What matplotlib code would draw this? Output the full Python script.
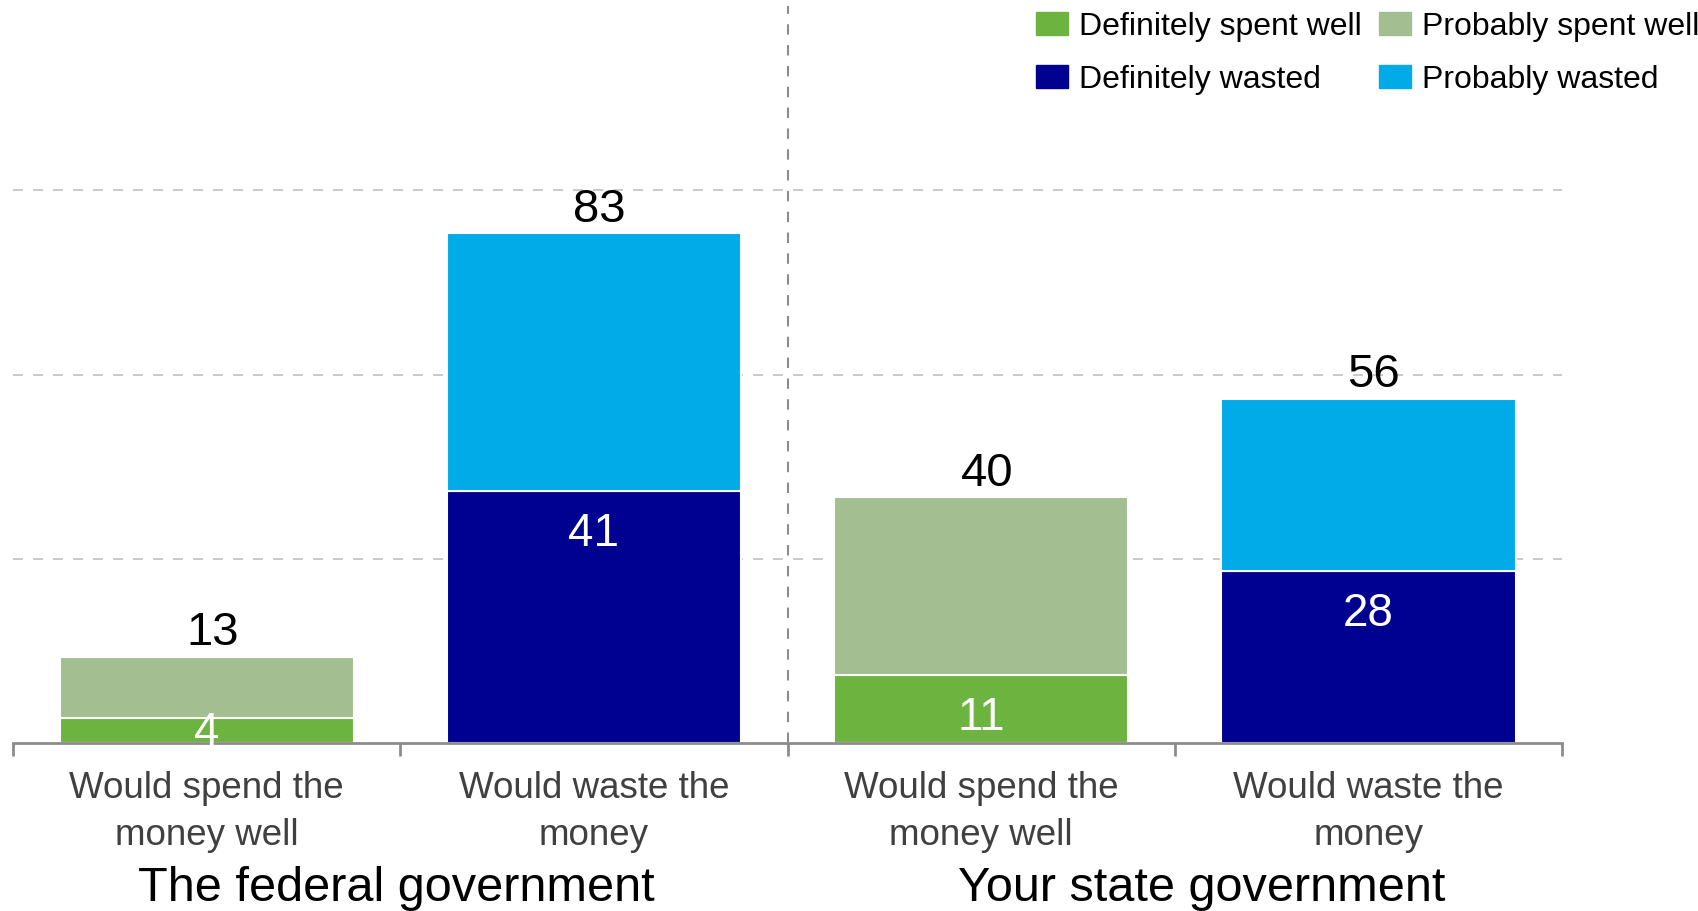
"""
Federal vs state government: would the money be spent well or wasted?
Stacked bar chart recreated with matplotlib.
"""

import numpy as np
import matplotlib
matplotlib.use('Agg')
import matplotlib.pyplot as plt
from matplotlib.patches import Patch
import matplotlib.transforms as mtransforms

plt.rcParams['font.family'] = ['Liberation Sans', 'DejaVu Sans']

# ---- data ----
categories = ['Would spend the\nmoney well', 'Would waste the\nmoney',
              'Would spend the\nmoney well', 'Would waste the\nmoney']
groups = ['The federal government', 'Your state government']
definite = [4, 41, 11, 28]      # definitely spent well / definitely wasted
probable = [10, 42, 29, 28]     # probably spent well / probably wasted
totals = [13, 83, 40, 56]       # printed totals
is_spend = [True, False, True, False]

legend_labels = ['Definitely spent well', 'Probably spent well',
                 'Definitely wasted', 'Probably wasted']

# ---- colours ----
C_DEF_WELL = '#6db33f'
C_PROB_WELL = '#a3be91'
C_DEF_WASTE = '#000091'
C_PROB_WASTE = '#00abe7'

fig = plt.figure(figsize=(16.98, 9.11), dpi=100)
ax = fig.add_axes([0.0077, 0.1844, 0.9122, 0.809])

x = np.arange(len(categories))
width = 0.76
low_colors = [C_DEF_WELL if s else C_DEF_WASTE for s in is_spend]
high_colors = [C_PROB_WELL if s else C_PROB_WASTE for s in is_spend]

ax.bar(x, definite, width, color=low_colors, edgecolor='white', linewidth=1.5, zorder=2)
ax.bar(x, probable, width, bottom=definite, color=high_colors,
       edgecolor='white', linewidth=1.5, zorder=2)

ax.set_xlim(-0.5, 3.5)
ax.set_ylim(0, 120)

# gridlines
for g in [30, 60, 90]:
    ax.axhline(g, color='#c0c0c0', linewidth=1.2, linestyle=(0, (6, 6)), zorder=1)
# separator between groups
ax.axvline(1.5, color='#8c8c8c', linewidth=1.5, linestyle=(0, (5, 5)), zorder=1)

# spines / ticks
for side in ['top', 'right', 'left']:
    ax.spines[side].set_visible(False)
ax.spines['bottom'].set_color('#8c8c8c')
ax.spines['bottom'].set_linewidth(2)
ax.set_yticks([])
ax.set_xticks([-0.5, 0.5, 1.5, 2.5, 3.5])
ax.set_xticklabels([])
ax.tick_params(axis='x', length=9, width=2, color='#8c8c8c', direction='out')

# category labels and group labels
trans = mtransforms.blended_transform_factory(ax.transData, ax.transAxes)
for xi, cat in zip(x, categories):
    ax.text(xi, -0.094, cat, transform=trans, ha='center', va='center',
            fontsize=26.5, color='#404040', linespacing=1.45)
for gx, g in zip([0.49, 2.57], groups):
    ax.text(gx, -0.197, g, transform=trans, ha='center', va='center',
            fontsize=35, color='black')

# totals above bars
for xi, d, p, t in zip(x, definite, probable, totals):
    ax.annotate(str(t), (xi, d + p), xytext=(4, 17), textcoords='offset points',
                ha='center', va='center', fontsize=34, color='black', zorder=4)

# values inside the lower segment
for xi, d in zip(x, definite):
    y = max(d - 7, 1.6)
    ax.text(xi, y, str(d), ha='center', va='center', fontsize=33,
            color='white', zorder=4)

# legend (row order: definitely/probably spent well, then wasted)
handles = [Patch(color=C_DEF_WELL), Patch(color=C_DEF_WASTE),
           Patch(color=C_PROB_WELL), Patch(color=C_PROB_WASTE)]
labels = [legend_labels[0], legend_labels[2], legend_labels[1], legend_labels[3]]
fig.legend(handles, labels, ncol=2, loc='upper left',
           bbox_to_anchor=(0.61, 0.987), frameon=False, fontsize=23,
           handlelength=1.0, handleheight=0.7, handletextpad=0.35,
           columnspacing=0.55, labelspacing=0.72, borderpad=0, borderaxespad=0)

plt.savefig('out.png', dpi=100)
